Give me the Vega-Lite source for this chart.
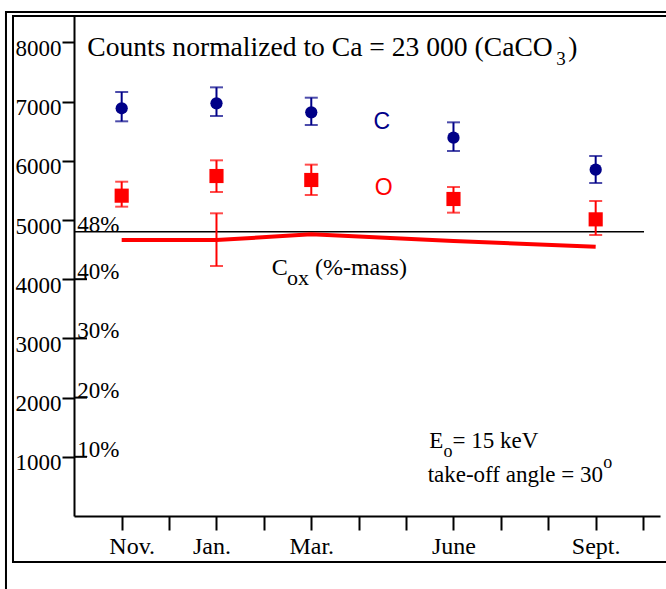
{
  "$schema": "https://vega.github.io/schema/vega-lite/v6.json",
  "width": 586,
  "height": 500,
  "autosize": {"type": "none"},
  "padding": {"left": 74, "top": 16, "right": 6, "bottom": 73},
  "background": "white",
  "data": {"values": [{}]},
  "config": {
    "view": {"stroke": null},
    "axis": {
      "grid": false,
      "title": null,
      "domainColor": "black",
      "domainWidth": 2,
      "tickColor": "black",
      "tickWidth": 2,
      "labelColor": "black",
      "labelFont": "Liberation Serif",
      "labelFontSize": 23,
      "labelFlush": false,
      "labelOverlap": false
    }
  },
  "datasets": {
    "counts": [
      {"month": "Nov.", "m": 0, "element": "C", "value": 6887, "lo": 6667, "hi": 7162},
      {"month": "Jan.", "m": 2, "element": "C", "value": 6971, "lo": 6757, "hi": 7241},
      {"month": "Mar.", "m": 4, "element": "C", "value": 6819, "lo": 6605, "hi": 7066},
      {"month": "June", "m": 7, "element": "C", "value": 6391, "lo": 6166, "hi": 6650},
      {"month": "Sept.", "m": 10, "element": "C", "value": 5850, "lo": 5625, "hi": 6081},
      {"month": "Nov.", "m": 0, "element": "O", "value": 5411, "lo": 5225, "hi": 5647},
      {"month": "Jan.", "m": 2, "element": "O", "value": 5743, "lo": 5473, "hi": 6008},
      {"month": "Mar.", "m": 4, "element": "O", "value": 5676, "lo": 5422, "hi": 5935},
      {"month": "June", "m": 7, "element": "O", "value": 5355, "lo": 5124, "hi": 5557},
      {"month": "Sept.", "m": 10, "element": "O", "value": 5011, "lo": 4747, "hi": 5321}
    ],
    "cox": [
      {"month": "Nov.", "m": 0, "value": 4662},
      {"month": "Jan.", "m": 2, "value": 4662},
      {"month": "Mar.", "m": 4, "value": 4758},
      {"month": "June", "m": 7, "value": 4645},
      {"month": "Sept.", "m": 10, "value": 4550}
    ],
    "coxerr": [
      {"month": "Jan.", "m": 2, "lo": 4223, "hi": 5113}
    ],
    "pct": [
      {"label": "48%", "v": 4800},
      {"label": "40%", "v": 4000},
      {"label": "30%", "v": 3000},
      {"label": "20%", "v": 2000},
      {"label": "10%", "v": 1000}
    ]
  },
  "layer": [
    {
      "mark": {"type": "rect", "fill": null, "stroke": "black", "strokeWidth": 2},
      "encoding": {
        "x": {"datum": -2.441, "type": "quantitative", "scale": {"domain": [-1.006, 11.357], "nice": false, "zero": false}},
        "x2": {"datum": 12},
        "y": {"datum": -1300, "type": "quantitative", "scale": {"domain": [0, 8446], "nice": false, "zero": false}},
        "y2": {"datum": 8514}
      }
    },
    {
      "mark": {"type": "rect", "fill": null, "stroke": "black", "strokeWidth": 2},
      "encoding": {
        "x": {"datum": -2.293, "type": "quantitative", "scale": {"domain": [-1.006, 11.357], "nice": false, "zero": false}},
        "x2": {"datum": 12},
        "y": {"datum": -777, "type": "quantitative", "scale": {"domain": [0, 8446], "nice": false, "zero": false}},
        "y2": {"datum": 8446}
      }
    },
    {
      "data": {"name": "pct"},
      "transform": [{"filter": "datum.v <= 4000"}],
      "mark": {"type": "rule", "color": "black", "strokeWidth": 2},
      "encoding": {
        "x": {"datum": -1.006, "type": "quantitative", "scale": {"domain": [-1.006, 11.357], "nice": false, "zero": false}},
        "x2": {"datum": -0.732},
        "y": {"field": "v", "type": "quantitative", "scale": {"domain": [0, 8446], "nice": false, "zero": false}}
      }
    },
    {
      "mark": {"type": "rule", "color": "black", "strokeWidth": 1.5},
      "encoding": {
        "x": {"datum": -1.006, "type": "quantitative", "scale": {"domain": [-1.006, 11.357], "nice": false, "zero": false}},
        "x2": {"datum": 11.02},
        "y": {"datum": 4800, "type": "quantitative", "scale": {"domain": [0, 8446], "nice": false, "zero": false}}
      }
    },
    {
      "data": {"name": "cox"},
      "mark": {"type": "line", "color": "#ff0000", "strokeWidth": 4},
      "encoding": {
        "x": {"field": "m", "type": "quantitative", "scale": {"domain": [-1.006, 11.357], "nice": false, "zero": false},
          "axis": {
            "values": [0, 1, 2, 3, 4, 5, 6, 7, 8, 9, 10, 11],
            "tickSize": 14,
            "labelPadding": 4,
            "labelFontSize": 24,
            "labelExpr": "datum.value == 0 ? 'Nov.' : datum.value == 2 ? 'Jan.' : datum.value == 4 ? 'Mar.' : datum.value == 7 ? 'June' : datum.value == 10 ? 'Sept.' : ''",
            "labelOffset": {"condition": [{"test": "datum.value == 0", "value": 10}, {"test": "datum.value == 2", "value": -5}], "value": 0}
          }
        },
        "y": {"field": "value", "type": "quantitative", "scale": {"domain": [0, 8446], "nice": false, "zero": false},
          "axis": {
            "values": [1000, 2000, 3000, 4000, 5000, 6000, 7000, 8000],
            "format": "d",
            "tickSize": 12,
            "labelPadding": 1,
            "labelBaseline": "middle",
            "labelOffset": 6
          }
        }
      }
    },
    {
      "data": {"name": "coxerr"},
      "mark": {"type": "rule", "color": "#ff0000", "strokeWidth": 2},
      "encoding": {
        "x": {"field": "m", "type": "quantitative", "scale": {"domain": [-1.006, 11.357], "nice": false, "zero": false}},
        "y": {"field": "lo", "type": "quantitative", "scale": {"domain": [0, 8446], "nice": false, "zero": false}},
        "y2": {"field": "hi"}
      }
    },
    {
      "data": {"name": "coxerr"},
      "mark": {"type": "tick", "orient": "horizontal", "color": "#ff0000", "size": 13, "thickness": 2},
      "encoding": {
        "x": {"field": "m", "type": "quantitative", "scale": {"domain": [-1.006, 11.357], "nice": false, "zero": false}},
        "y": {"field": "lo", "type": "quantitative", "scale": {"domain": [0, 8446], "nice": false, "zero": false}}
      }
    },
    {
      "data": {"name": "coxerr"},
      "mark": {"type": "tick", "orient": "horizontal", "color": "#ff0000", "size": 13, "thickness": 2},
      "encoding": {
        "x": {"field": "m", "type": "quantitative", "scale": {"domain": [-1.006, 11.357], "nice": false, "zero": false}},
        "y": {"field": "hi", "type": "quantitative", "scale": {"domain": [0, 8446], "nice": false, "zero": false}}
      }
    },
    {
      "data": {"name": "counts"},
      "mark": {"type": "rule", "strokeWidth": 2},
      "encoding": {
        "x": {"field": "m", "type": "quantitative", "scale": {"domain": [-1.006, 11.357], "nice": false, "zero": false}},
        "y": {"field": "lo", "type": "quantitative", "scale": {"domain": [0, 8446], "nice": false, "zero": false}},
        "y2": {"field": "hi"},
        "color": {"field": "element", "type": "nominal", "scale": {"domain": ["C", "O"], "range": ["#000088", "#ff0000"]}, "legend": null}
      }
    },
    {
      "data": {"name": "counts"},
      "mark": {"type": "tick", "orient": "horizontal", "size": 13, "thickness": 2},
      "encoding": {
        "x": {"field": "m", "type": "quantitative", "scale": {"domain": [-1.006, 11.357], "nice": false, "zero": false}},
        "y": {"field": "lo", "type": "quantitative", "scale": {"domain": [0, 8446], "nice": false, "zero": false}},
        "color": {"field": "element", "type": "nominal", "scale": {"domain": ["C", "O"], "range": ["#000088", "#ff0000"]}, "legend": null}
      }
    },
    {
      "data": {"name": "counts"},
      "mark": {"type": "tick", "orient": "horizontal", "size": 13, "thickness": 2},
      "encoding": {
        "x": {"field": "m", "type": "quantitative", "scale": {"domain": [-1.006, 11.357], "nice": false, "zero": false}},
        "y": {"field": "hi", "type": "quantitative", "scale": {"domain": [0, 8446], "nice": false, "zero": false}},
        "color": {"field": "element", "type": "nominal", "scale": {"domain": ["C", "O"], "range": ["#000088", "#ff0000"]}, "legend": null}
      }
    },
    {
      "data": {"name": "counts"},
      "transform": [{"filter": "datum.element == 'C'"}],
      "mark": {"type": "point", "shape": "circle", "filled": true, "opacity": 1, "size": 150, "color": "#000088"},
      "encoding": {
        "x": {"field": "m", "type": "quantitative", "scale": {"domain": [-1.006, 11.357], "nice": false, "zero": false}},
        "y": {"field": "value", "type": "quantitative", "scale": {"domain": [0, 8446], "nice": false, "zero": false}}
      }
    },
    {
      "data": {"name": "counts"},
      "transform": [{"filter": "datum.element == 'O'"}],
      "mark": {"type": "point", "shape": "square", "filled": true, "opacity": 1, "size": 200, "color": "#ff0000"},
      "encoding": {
        "x": {"field": "m", "type": "quantitative", "scale": {"domain": [-1.006, 11.357], "nice": false, "zero": false}},
        "y": {"field": "value", "type": "quantitative", "scale": {"domain": [0, 8446], "nice": false, "zero": false}}
      }
    },
    {
      "data": {"name": "pct"},
      "mark": {"type": "text", "align": "left", "baseline": "alphabetic", "font": "Liberation Serif", "fontSize": 23, "color": "black"},
      "encoding": {
        "x": {"datum": -0.937, "type": "quantitative", "scale": {"domain": [-1.006, 11.357], "nice": false, "zero": false}},
        "y": {"field": "v", "type": "quantitative", "scale": {"domain": [0, 8446], "nice": false, "zero": false}},
        "text": {"field": "label"}
      }
    },
    {
      "mark": {"type": "text", "align": "left", "baseline": "alphabetic", "font": "Liberation Serif", "fontSize": 27.6, "color": "black"},
      "encoding": {
        "x": {"datum": -0.726, "type": "quantitative", "scale": {"domain": [-1.006, 11.357], "nice": false, "zero": false}},
        "y": {"datum": 7770, "type": "quantitative", "scale": {"domain": [0, 8446], "nice": false, "zero": false}},
        "text": {"value": "Counts normalized to Ca = 23 000 (CaCO"}
      }
    },
    {
      "mark": {"type": "text", "align": "left", "baseline": "alphabetic", "font": "Liberation Serif", "fontSize": 19, "color": "black"},
      "encoding": {
        "x": {"datum": 9.17, "type": "quantitative", "scale": {"domain": [-1.006, 11.357], "nice": false, "zero": false}},
        "y": {"datum": 7620, "type": "quantitative", "scale": {"domain": [0, 8446], "nice": false, "zero": false}},
        "text": {"value": "3"}
      }
    },
    {
      "mark": {"type": "text", "align": "left", "baseline": "alphabetic", "font": "Liberation Serif", "fontSize": 27.6, "color": "black"},
      "encoding": {
        "x": {"datum": 9.42, "type": "quantitative", "scale": {"domain": [-1.006, 11.357], "nice": false, "zero": false}},
        "y": {"datum": 7770, "type": "quantitative", "scale": {"domain": [0, 8446], "nice": false, "zero": false}},
        "text": {"value": ")"}
      }
    },
    {
      "mark": {"type": "text", "align": "center", "baseline": "middle", "font": "Liberation Sans", "fontSize": 23, "color": "#000088"},
      "encoding": {
        "x": {"datum": 5.49, "type": "quantitative", "scale": {"domain": [-1.006, 11.357], "nice": false, "zero": false}},
        "y": {"datum": 6655, "type": "quantitative", "scale": {"domain": [0, 8446], "nice": false, "zero": false}},
        "text": {"value": "C"}
      }
    },
    {
      "mark": {"type": "text", "align": "center", "baseline": "middle", "font": "Liberation Sans", "fontSize": 23, "color": "#ff0000"},
      "encoding": {
        "x": {"datum": 5.53, "type": "quantitative", "scale": {"domain": [-1.006, 11.357], "nice": false, "zero": false}},
        "y": {"datum": 5535, "type": "quantitative", "scale": {"domain": [0, 8446], "nice": false, "zero": false}},
        "text": {"value": "O"}
      }
    },
    {
      "mark": {"type": "text", "align": "left", "baseline": "alphabetic", "font": "Liberation Serif", "fontSize": 24, "color": "black"},
      "encoding": {
        "x": {"datum": 3.164, "type": "quantitative", "scale": {"domain": [-1.006, 11.357], "nice": false, "zero": false}},
        "y": {"datum": 4071, "type": "quantitative", "scale": {"domain": [0, 8446], "nice": false, "zero": false}},
        "text": {"value": "C"}
      }
    },
    {
      "mark": {"type": "text", "align": "left", "baseline": "alphabetic", "font": "Liberation Serif", "fontSize": 22, "color": "black"},
      "encoding": {
        "x": {"datum": 3.49, "type": "quantitative", "scale": {"domain": [-1.006, 11.357], "nice": false, "zero": false}},
        "y": {"datum": 3900, "type": "quantitative", "scale": {"domain": [0, 8446], "nice": false, "zero": false}},
        "text": {"value": "ox"}
      }
    },
    {
      "mark": {"type": "text", "align": "left", "baseline": "alphabetic", "font": "Liberation Serif", "fontSize": 24, "color": "black"},
      "encoding": {
        "x": {"datum": 4.078, "type": "quantitative", "scale": {"domain": [-1.006, 11.357], "nice": false, "zero": false}},
        "y": {"datum": 4071, "type": "quantitative", "scale": {"domain": [0, 8446], "nice": false, "zero": false}},
        "text": {"value": "(%-mass)"}
      }
    },
    {
      "mark": {"type": "text", "align": "left", "baseline": "alphabetic", "font": "Liberation Serif", "fontSize": 23, "color": "black"},
      "encoding": {
        "x": {"datum": 6.49, "type": "quantitative", "scale": {"domain": [-1.006, 11.357], "nice": false, "zero": false}},
        "y": {"datum": 1144, "type": "quantitative", "scale": {"domain": [0, 8446], "nice": false, "zero": false}},
        "text": {"value": "E"}
      }
    },
    {
      "mark": {"type": "text", "align": "left", "baseline": "alphabetic", "font": "Liberation Serif", "fontSize": 18, "color": "black"},
      "encoding": {
        "x": {"datum": 6.79, "type": "quantitative", "scale": {"domain": [-1.006, 11.357], "nice": false, "zero": false}},
        "y": {"datum": 997, "type": "quantitative", "scale": {"domain": [0, 8446], "nice": false, "zero": false}},
        "text": {"value": "o"}
      }
    },
    {
      "mark": {"type": "text", "align": "left", "baseline": "alphabetic", "font": "Liberation Serif", "fontSize": 23, "color": "black"},
      "encoding": {
        "x": {"datum": 6.98, "type": "quantitative", "scale": {"domain": [-1.006, 11.357], "nice": false, "zero": false}},
        "y": {"datum": 1144, "type": "quantitative", "scale": {"domain": [0, 8446], "nice": false, "zero": false}},
        "text": {"value": "= 15 keV"}
      }
    },
    {
      "mark": {"type": "text", "align": "left", "baseline": "alphabetic", "font": "Liberation Serif", "fontSize": 23, "color": "black"},
      "encoding": {
        "x": {"datum": 6.455, "type": "quantitative", "scale": {"domain": [-1.006, 11.357], "nice": false, "zero": false}},
        "y": {"datum": 579, "type": "quantitative", "scale": {"domain": [0, 8446], "nice": false, "zero": false}},
        "text": {"value": "take-off angle = 30"}
      }
    },
    {
      "mark": {"type": "text", "align": "left", "baseline": "alphabetic", "font": "Liberation Serif", "fontSize": 18, "color": "black"},
      "encoding": {
        "x": {"datum": 10.16, "type": "quantitative", "scale": {"domain": [-1.006, 11.357], "nice": false, "zero": false}},
        "y": {"datum": 811, "type": "quantitative", "scale": {"domain": [0, 8446], "nice": false, "zero": false}},
        "text": {"value": "o"}
      }
    }
  ]
}
